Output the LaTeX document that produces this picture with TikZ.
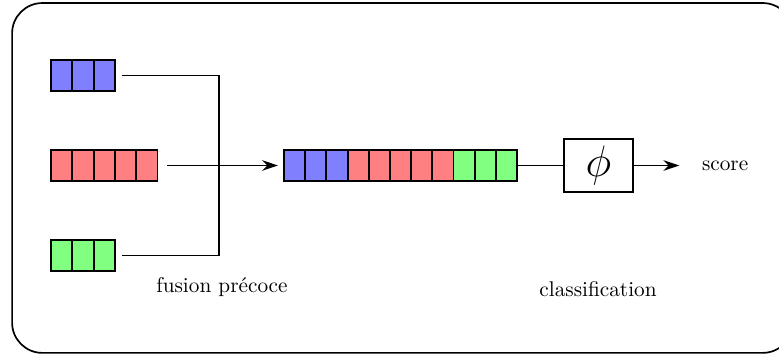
\documentclass[tikz,border=0pt]{standalone}
\usetikzlibrary{arrows.meta}
\begin{document}
\begin{tikzpicture}
[ar/.style={-{Stealth[length=7.5pt,width=5pt,inset=2.5pt]},thick},
cell/.style={
  draw, line width=0.9pt, minimum width=0.35cm, minimum height=0.5cm,
  inner sep=0pt, outer sep=0pt
  }
]

\tikzstyle{bcell}  =  [cell, fill=blue!50]
\tikzstyle{rcell}  =  [cell, fill=red!50]
\tikzstyle{gcell}  =  [cell, fill=green!50]
\tikzstyle{phinode}  =  [draw, thick, minimum width=1.14cm, minimum height=0.81cm]

\useasboundingbox (0,0) rectangle (12.87,-5.85);
\draw[thick, rounded corners=0.5cm] (0.2,-0.05) rectangle (13.1,-5.83);

% input vectors
\foreach \i in {1,2,3} \node[bcell] (b\i) at ({1.019+0.352*(\i-1)},-1.247) {};
\foreach \i in {1,...,5} \node[rcell] (r\i) at ({1.019+0.352*(\i-1)},-2.734) {};
\foreach \i in {1,2,3} \node[gcell] (g\i) at ({1.019+0.352*(\i-1)},-4.22) {};

% fused vector
\foreach \i/\c in {1/bcell,2/bcell,3/bcell,4/rcell,5/rcell,6/rcell,7/rcell,8/rcell,9/gcell,10/gcell,11/gcell}
  \node[\c] (c\i) at ({4.867+0.35*(\i-1)},-2.734) {};

\node[phinode] (phi) at (9.887,-2.734) {\huge $\phi$};
\node (score) at (11.98,-2.734) {score};

\node (fusion) at (3.667,-4.74) {fusion précoce};
\node (classif) at (9.88,-4.77) {classification};

%edges
\coordinate (fuse) at (3.618,-2.734);

\draw[thick, shorten <=0.116cm, shorten >=0.116cm] (b3.east) -| (fuse) |- (g3.east);
\draw[ar, shorten <=0.165cm, shorten >=0.1cm] (r5.east) -- (c1.west);
\draw[thick] (c11.east) -- (phi.west);
\draw[ar, shorten >=0.25cm] (phi.east) -- (score.west);

\end{tikzpicture}
\end{document}
